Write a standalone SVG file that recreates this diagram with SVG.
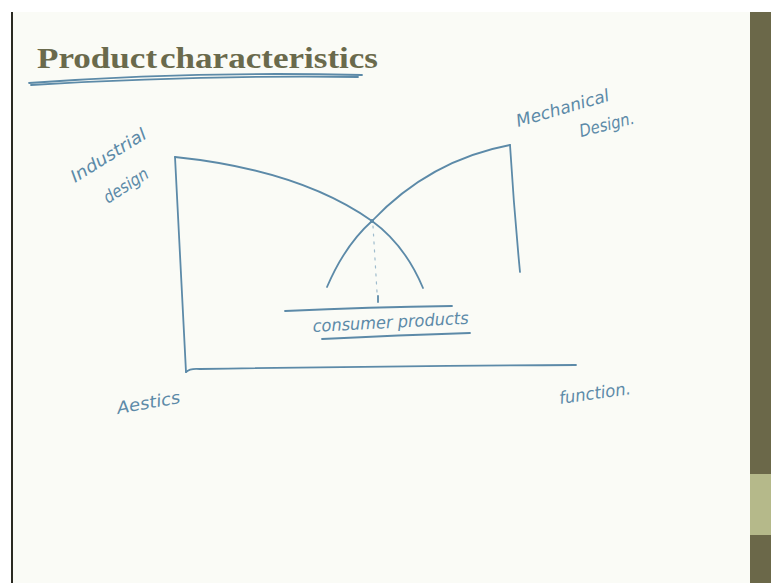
<svg xmlns="http://www.w3.org/2000/svg" width="771" height="583" viewBox="0 0 771 583">
<style>
.pen{fill:none;stroke:#5c8aa8;stroke-width:1.8;stroke-linecap:round;stroke-linejoin:round}
.faint{fill:none;stroke:#9fbccd;stroke-width:1.2;stroke-dasharray:2 6;stroke-linecap:round}
.hand{font-family:"DejaVu Sans","Liberation Sans",sans-serif;font-style:italic;fill:#5c8aa8;font-size:17px}
</style>
<rect x="0" y="0" width="771" height="583" fill="#ffffff"/>
<rect x="12" y="12" width="740" height="571" fill="#fafbf6"/>
<rect x="11" y="12" width="2" height="571" fill="#2a2a22"/>
<g id="sidebar">
<rect x="750" y="12" width="21" height="571" fill="#6b6849"/>
<rect x="750" y="474" width="21" height="61" fill="#b5b98a"/>
</g>
<g id="title">
<text x="37" y="68" font-family="Liberation Serif,serif" font-weight="bold" font-size="30" fill="#6a6a4c" word-spacing="-5" textLength="341" lengthAdjust="spacingAndGlyphs">Product characteristics</text>
<path class="pen" d="M29,83 Q190,71 362,75" stroke-width="1.4"/>
<path class="pen" d="M31,85 Q200,75 358,77" stroke-width="1"/>
</g>
<g id="axes">
<path class="pen" d="M175,157 Q180,260 186,372"/>
<path class="pen" d="M186,372 Q190,368 200,369 Q400,366 576,365"/>
</g>
<g id="connectors">
<path class="pen" d="M175,157 Q300,170 372,221 Q405,245 423,288"/>
<path class="pen" d="M327,287 Q345,245 372,221 Q430,160 510,145"/>
<path class="pen" d="M510,145 Q514,210 520,272"/>
<path class="faint" d="M373,226 L377,292"/>
<path class="pen" d="M378,296 L378,302" stroke-width="1"/>
<path class="pen" d="M285,311 Q370,307 452,306"/>
<path class="pen" d="M322,339 Q400,335 470,333"/>
<circle cx="372" cy="221" r="2" fill="#5c8aa8"/>
</g>
<g id="labels">
<text class="hand" transform="translate(75,183) rotate(-32)" textLength="86" lengthAdjust="spacingAndGlyphs">Industrial</text>
<text class="hand" transform="translate(108,204) rotate(-33)" textLength="50" lengthAdjust="spacingAndGlyphs">design</text>
<text class="hand" transform="translate(518,127) rotate(-16)" textLength="96" lengthAdjust="spacingAndGlyphs">Mechanical</text>
<text class="hand" transform="translate(581,137) rotate(-14)" textLength="56" lengthAdjust="spacingAndGlyphs">Design.</text>
<text class="hand" transform="translate(313,332) rotate(-3)" font-size="15" textLength="156" lengthAdjust="spacingAndGlyphs">consumer products</text>
<text class="hand" transform="translate(118,414) rotate(-10)" font-size="19" textLength="64" lengthAdjust="spacingAndGlyphs">Aestics</text>
<text class="hand" transform="translate(560,404) rotate(-8)" font-size="18" textLength="72" lengthAdjust="spacingAndGlyphs">function.</text>
</g>
</svg>
